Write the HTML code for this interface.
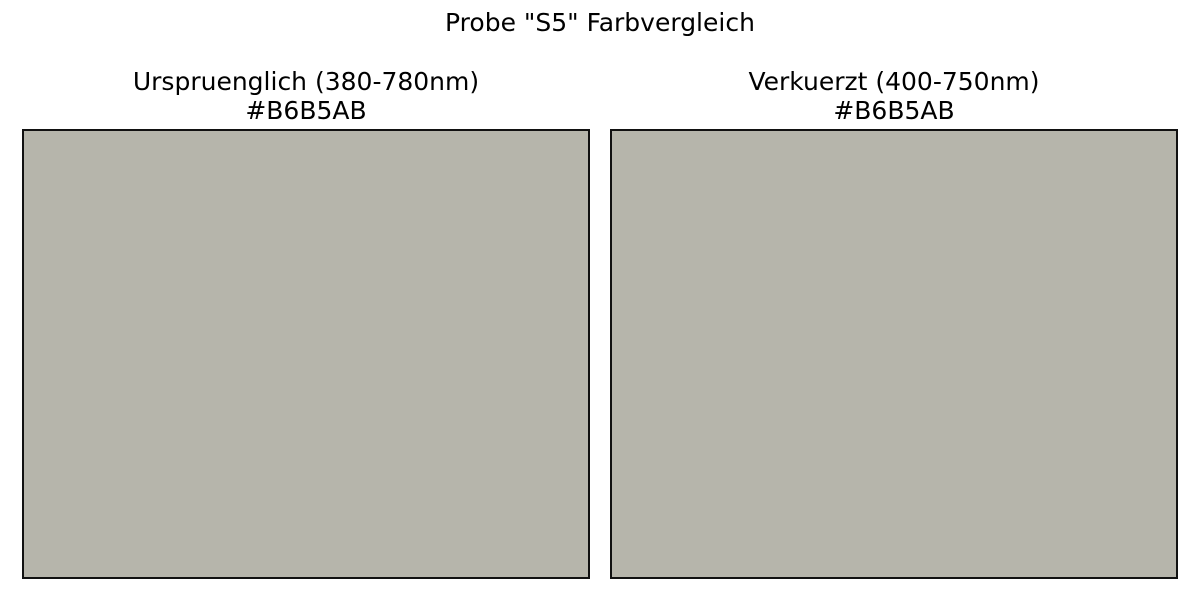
<!DOCTYPE html>
<html><head><meta charset="utf-8"><style>
body{margin:0;width:1200px;height:600px;background:#fff;font-family:"DejaVu Sans",sans-serif;overflow:hidden;position:relative}
.t{position:absolute;text-align:center;color:#000;white-space:nowrap;font-family:"DejaVu Sans",sans-serif}
.box{position:absolute;border:2px solid #111;box-sizing:border-box}
</style></head><body>
<div class="t" style="left:0;width:1200px;top:8px;font-size:25px;line-height:29px">Probe "S5" Farbvergleich</div>
<div id="root"></div>
<script>
const panelTitles = ["Urspruenglich (380-780nm)", "Verkuerzt (400-750nm)"];
const panelColors = ["#B6B5AB", "#B6B5AB"];
const lefts=[22,610], width=568;
const root=document.getElementById('root');
panelTitles.forEach((t,i)=>{
  const h=document.createElement('div');
  h.className='t';
  
  
  h.style.cssText=`left:${lefts[i]}px;width:${width}px;top:67px;font-size:25px;line-height:29px`;
  h.innerHTML=t+'<br>'+panelColors[i];
  root.appendChild(h);
  const b=document.createElement('div');
  b.className='box';
  
  
  b.style.cssText=`left:${lefts[i]}px;top:129px;width:${width}px;height:450px;background:${panelColors[i]}`;
  root.appendChild(b);
});
</script>
</body></html>
